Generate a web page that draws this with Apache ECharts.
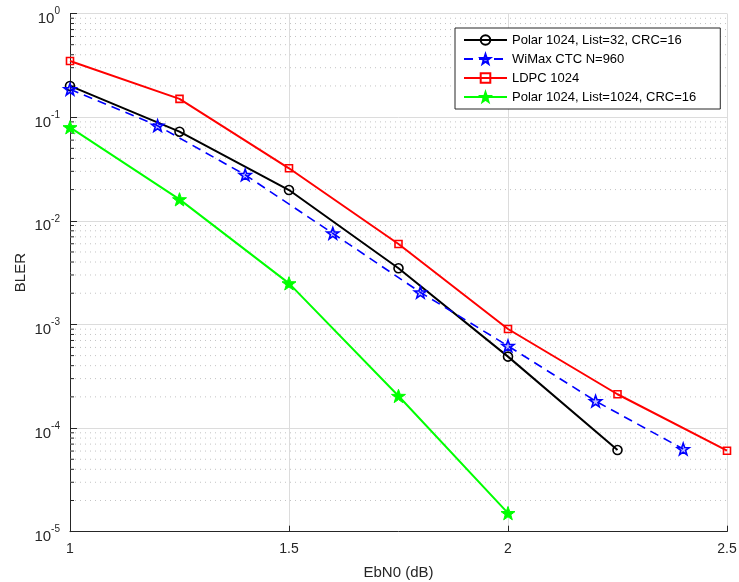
<!DOCTYPE html>
<html><head><meta charset="utf-8">
<script src="https://cdn.jsdelivr.net/npm/echarts@6/dist/echarts.min.js"></script>
<style>html,body{margin:0;padding:0;background:#fff}#c{width:739px;height:582px}</style>
</head><body><div id="c"></div>
<script>
// ---- data ----
const xTicks = [1, 1.5, 2, 2.5];
const polar32X = [1, 1.25, 1.5, 1.75, 2, 2.25];
const polar32Y = [0.2, 0.0724, 0.0198, 0.00348, 0.000489, 6.14e-5];
const wimaxX = [1, 1.2, 1.4, 1.6, 1.8, 2.0, 2.2, 2.4];
const wimaxY = [0.186, 0.0827, 0.0277, 0.00757, 0.00204, 0.00062, 0.000182, 6.28e-5];
const ldpcX = [1, 1.25, 1.5, 1.75, 2, 2.25, 2.5];
const ldpcY = [0.348, 0.150, 0.0321, 0.00597, 0.000903, 0.000212, 6.05e-5];
const polar1024X = [1, 1.25, 1.5, 1.75, 2];
const polar1024Y = [0.0798, 0.0161, 0.00249, 0.000204, 1.51e-5];
const seriesNames = ['Polar 1024, List=32, CRC=16', 'WiMax CTC N=960', 'LDPC 1024', 'Polar 1024, List=1024, CRC=16'];
const decades = [1e-5, 1e-4, 1e-3, 1e-2, 1e-1];
const minorMults = [2, 3, 4, 5, 6, 7, 8, 9];

const pair = (xs, ys) => xs.map((x, i) => [x, ys[i]]);
const minorVals = [];
decades.forEach(d => minorMults.forEach(m => minorVals.push(d * m)));

const AX = '#262626';
const FONT = '"Liberation Sans", Arial, Helvetica, sans-serif';
const STAR = 'path://M0,-10 L2.35,-3.24 L9.51,-3.09 L3.8,1.24 L5.88,8.09 L0,4 L-5.88,8.09 L-3.8,1.24 L-9.51,-3.09 L-2.35,-3.24 Z';

const chart = echarts.init(document.getElementById('c'), null, {renderer: 'canvas'});
chart.setOption({
  animation: false,
  backgroundColor: '#fff',
  textStyle: {fontFamily: FONT},
  grid: {left: 70, right: 12, top: 13.5, bottom: 50.3, containLabel: false, outerBoundsMode: 'none'},
  xAxis: {
    type: 'value', min: 1, max: 2.5, interval: 0.5,
    name: 'EbN0 (dB)', nameLocation: 'middle', nameGap: 34,
    nameTextStyle: {color: AX, fontSize: 15, fontFamily: FONT},
    axisLine: {show: true, lineStyle: {color: AX, width: 1}},
    axisTick: {show: true, inside: true, length: 6, lineStyle: {color: AX}},
    axisLabel: {color: AX, fontSize: 14, margin: 10, fontFamily: FONT,
      formatter: v => String(v)},
    splitLine: {show: true, lineStyle: {color: '#dcdcdc', width: 1}},
    minorTick: {show: false}, minorSplitLine: {show: false}
  },
  yAxis: {
    type: 'log', logBase: 10, min: 1e-5, max: 1,
    name: 'BLER', nameLocation: 'middle', nameGap: 42, nameRotate: 90, nameMoveOverlap: false,
    nameTextStyle: {color: AX, fontSize: 15, fontFamily: FONT},
    axisLine: {show: true, lineStyle: {color: AX, width: 1}},
    axisTick: {show: true, inside: true, length: 7, lineStyle: {color: AX}},
    axisLabel: {
      color: AX, margin: 10, fontFamily: FONT, padding: [8, 0, 0, 0],
      formatter: v => '{b|10}{s|' + Math.round(Math.log10(v)) + '}',
      rich: {
        b: {fontSize: 15, color: AX, fontFamily: FONT, lineHeight: 18, verticalAlign: 'bottom'},
        s: {fontSize: 10, color: AX, fontFamily: FONT, lineHeight: 18, verticalAlign: 'bottom', padding: [0, 0, 10, 0]}
      }
    },
    splitLine: {show: true, lineStyle: {color: '#dcdcdc', width: 1}},
    minorTick: {show: false}, minorSplitLine: {show: false}
  },
  legend: {
    orient: 'vertical', left: 455, top: 28,
    padding: [5, 24, 5, 8], itemGap: 5, itemWidth: 43, itemHeight: 12,
    backgroundColor: '#fff', borderColor: AX, borderWidth: 1,
    textStyle: {color: '#000', fontSize: 13, lineHeight: 14, fontFamily: FONT},
    data: seriesNames
  },
  series: [
    {
      type: 'custom', silent: true, z: 1, legendHoverLink: false,
      data: minorVals.map(v => [1, v]),
      renderItem: (params, api) => {
        const v = api.value(1);
        const p0 = api.coord([1, v]);
        const p1 = api.coord([2.5, v]);
        return {type: 'group', children: [
          {type: 'line', shape: {x1: p0[0], y1: p0[1], x2: p1[0], y2: p1[1]},
           style: {stroke: '#c4c4c4', lineWidth: 1, lineDash: [1, 4]}},
          {type: 'line', shape: {x1: p0[0], y1: p0[1], x2: p0[0] + 4, y2: p0[1]},
           style: {stroke: AX, lineWidth: 1}}
        ]};
      }
    },
    {
      name: seriesNames[0], type: 'line', data: pair(polar32X, polar32Y), z: 3,
      symbol: 'circle', symbolSize: 9,
      lineStyle: {color: '#000', width: 2},
      itemStyle: {color: 'rgba(255,255,255,0)', borderColor: '#000', borderWidth: 1.6}
    },
    {
      name: seriesNames[1], type: 'line', data: pair(wimaxX, wimaxY), z: 4,
      symbol: STAR, symbolSize: 12, symbolKeepAspect: true,
      lineStyle: {color: '#0000ff', width: 1.6, type: [9, 6]},
      itemStyle: {color: 'rgba(0,0,255,0.25)', borderColor: '#0000ff', borderWidth: 1.6}
    },
    {
      name: seriesNames[2], type: 'line', data: pair(ldpcX, ldpcY), z: 5,
      symbol: 'rect', symbolSize: 7,
      lineStyle: {color: '#ff0000', width: 2},
      itemStyle: {color: 'rgba(255,255,255,0)', borderColor: '#ff0000', borderWidth: 1.6}
    },
    {
      name: seriesNames[3], type: 'line', data: pair(polar1024X, polar1024Y), z: 6,
      symbol: STAR, symbolSize: 14, symbolKeepAspect: true,
      lineStyle: {color: '#00ff00', width: 2},
      itemStyle: {color: '#00ff00', borderColor: '#00ff00', borderWidth: 1}
    }
  ]
});
</script>
</body></html>
